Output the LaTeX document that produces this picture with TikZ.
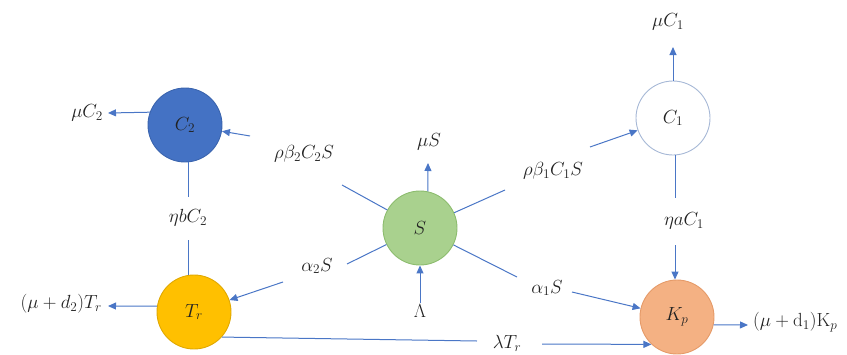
\documentclass[tikz,border=0pt]{standalone}
\usepackage{fix-cm}
\usetikzlibrary{arrows.meta}
\definecolor{lncol}{HTML}{4A76C6}
\definecolor{cblue}{HTML}{4472C4}
\definecolor{cblued}{HTML}{3A64AE}
\definecolor{cwhited}{HTML}{A6B8D6}
\definecolor{cgreen}{HTML}{A9D18E}
\definecolor{cgreend}{HTML}{8CBC6E}
\definecolor{cgold}{HTML}{FFC000}
\definecolor{cgoldd}{HTML}{E0A800}
\definecolor{corange}{HTML}{F4B183}
\definecolor{coranged}{HTML}{E59A68}
\definecolor{txt}{HTML}{222222}
\tikzset{
  state/.style={circle, minimum size=74pt, inner sep=0pt, line width=0.9pt, text=txt,
    font=\fontsize{19}{22}\selectfont},
  lab/.style={inner sep=1pt, text=txt, font=\fontsize{19}{22}\selectfont},
  ln/.style={draw=lncol, line width=1pt},
  arr/.style={ln, -{Triangle[length=8pt,width=7pt]}},
}
\begin{document}
\begin{tikzpicture}[x=1pt,y=-1pt]
\useasboundingbox (0,0) rectangle (847,354);
% states
\node[state, fill=cblue, draw=cblued] (C2) at (185,125) {$C_2$};
\node[state, fill=white, draw=cwhited] (C1) at (673,118) {$C_1$};
\node[state, fill=cgreen, draw=cgreend] (S) at (420,228) {$S$};
\node[state, fill=cgold, draw=cgoldd] (Tr) at (194,312) {$T_r$};
\node[state, fill=corange, draw=coranged] (Kp) at (677,317) {$K_p$};
% labels
\node[lab, anchor=east] (muC2) at (104,113) {$\mu C_2$};
\node[lab] (rb2) at (304,154) {$\rho\beta_2 C_2 S$};
\node[lab] (muS) at (429,142) {$\mu S$};
\node[lab] (rb1) at (553,171) {$\rho\beta_1 C_1 S$};
\node[lab] (muC1) at (668,22) {$\mu C_1$};
\node[lab] (ebC2) at (188,218) {$\eta b C_2$};
\node[lab] (eaC1) at (684,221) {$\eta a C_1$};
\node[lab] (a2S) at (317,266) {$\alpha_2 S$};
\node[lab] (Lam) at (420,311) {$\Lambda$};
\node[lab] (a1S) at (547,288) {$\alpha_1 S$};
\node[lab] (lTr) at (507,343) {$\lambda T_r$};
\node[lab, anchor=east] (mud2) at (103,304) {$(\mu+d_2)T_r$};
\node[lab, anchor=west] (mud1) at (752,322) {$(\mu+\mathrm{d}_1)\mathrm{K}_p$};
% free ends
\coordinate (a1) at (342,185);
\coordinate (a2) at (250,136);
\coordinate (b1) at (505,190);
\coordinate (b2) at (590,147);
\coordinate (c1) at (347,264);
\coordinate (c2) at (283,282);
\coordinate (d1) at (517,277);
\coordinate (d2) at (572,292);
\coordinate (e1) at (477,341);
\coordinate (e2) at (542,344);
\coordinate (f1) at (188,197);
\coordinate (f2) at (188,240);
\coordinate (g1) at (675,198);
\coordinate (g2) at (675,245);
\coordinate (h) at (428,163);
\coordinate (k1) at (108,113);
\coordinate (k2) at (673,47);
\coordinate (k3) at (108,306);
\coordinate (k4) at (748,325);
% connectors
\draw[ln] (S) -- (a1);
\draw[arr] (a2) -- (C2);
\draw[ln] (S) -- (b1);
\draw[arr] (b2) -- (C1);
\draw[ln] (S) -- (c1);
\draw[arr] (c2) -- (Tr);
\draw[ln] (S) -- (d1);
\draw[arr] (d2) -- (Kp);
\draw[ln] (Tr.-42) -- (e1);
\draw[arr] (e2) -- (Kp.227);
\draw[ln] (f1 |- C2.south) -- (f1);
\draw[ln] (f2) -- (f2 |- Tr.north);
\draw[ln] (g1 |- C1.south) -- (g1);
\draw[arr] (g2) -- (g2 |- Kp.north);
\draw[arr] (S.78) -- (h);
\draw[arr] (Lam) -- (S);
\draw[arr] (C2.160) -- (k1);
\draw[arr] (C1.north) -- (k2);
\draw[arr] (Tr.171) -- (k3);
\draw[arr] (Kp.-12) -- (k4);
\end{tikzpicture}
\end{document}
